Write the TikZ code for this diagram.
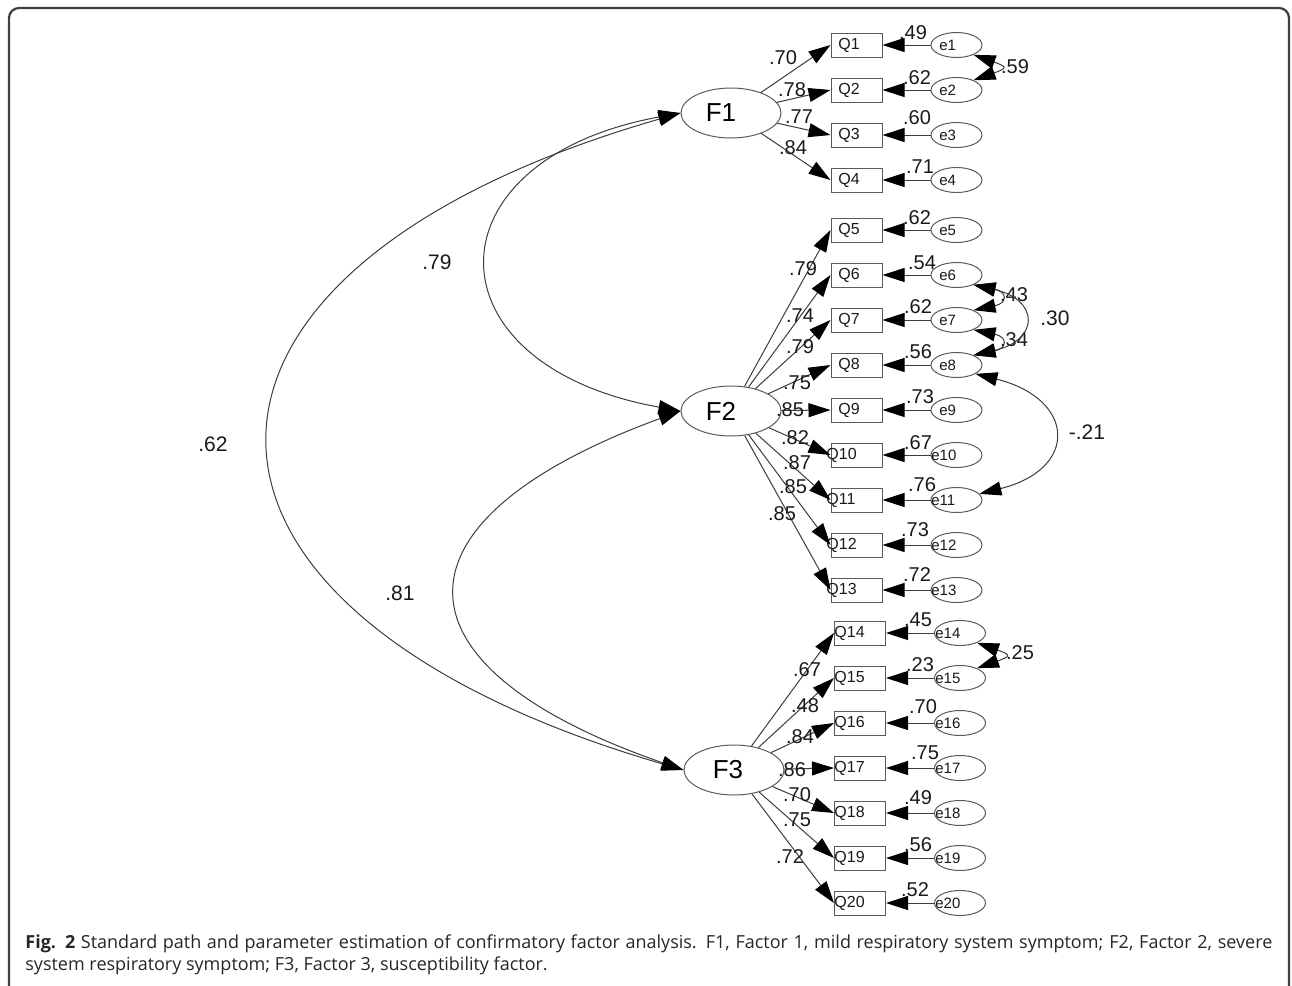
\documentclass[tikz,border=0pt]{standalone}
\usepackage{fontspec}
\setmainfont{Liberation Sans}
\newfontfamily\capfont{Open Sans}
\usetikzlibrary{arrows.meta,shapes.geometric,calc}
\definecolor{ln}{HTML}{3C3C3C}
\definecolor{bd}{HTML}{5A5A5A}
\begin{document}
\begin{tikzpicture}[x=0.5pt,y=-0.5pt,
  every node/.style={inner sep=0pt},
  >={Triangle[length=11pt,width=7pt,color=black]},
  lat/.style={draw=bd, ellipse, minimum width=50pt, minimum height=25pt, line width=0.5pt, font=\fontsize{13}{13}\selectfont},
  qbox/.style={draw=bd, rectangle, minimum width=25.5pt, minimum height=12pt, line width=0.5pt},
  ebox/.style={draw=bd, ellipse, minimum width=25.5pt, minimum height=12.5pt, line width=0.5pt},
  qtxt/.style={font=\fontsize{8}{8}\selectfont, text=black!90},
  smalltxt/.style={font=\fontsize{7.5}{7.5}\selectfont, text=black!90},
  num/.style={font=\fontsize{10}{10}\selectfont, text=black!90},
  bignum/.style={font=\fontsize{10.5}{10.5}\selectfont, text=black!90},
  path/.style={draw=ln, line width=0.5pt, ->},
  cov/.style={draw=ln, line width=0.5pt, <->}
]
\path[use as bounding box] (0,0) rectangle (1292,986);
\clip (0,0) rectangle (1292,986);
\draw[line width=1.1pt, draw=black!75, rounded corners=5pt] (9,8) rectangle (1289,1020);

% latent factors
\node[lat] (f1) at (731,113) {\hspace*{-10pt}F1};
\node[lat] (f2) at (731,411) {\hspace*{-10pt}F2};
\node[lat] (f3) at (734,770) {\hspace*{-6pt}F3};

% indicators and errors
\foreach \i/\y/\qx/\ex/\qt/\et in {
  1/45/856.5/956.5/838/939, 2/90/856.5/956.5/838/939, 3/135/856.5/956.5/838/939,
  4/180/856.5/956.5/838/939, 5/230/856.5/956.5/838/939, 6/275/856.5/956.5/838/939,
  7/320/856.5/956.5/838/939, 8/365/856.5/956.5/838/939, 9/410/856.5/956.5/838/939,
  10/455/856.5/956.5/826/931, 11/500/856.5/956.5/826/931, 12/545/856.5/956.5/826/931,
  13/590/856.5/956.5/826/931, 14/633/860/960/834/935, 15/678/860/960/834/935,
  16/723/860/960/834/935, 17/768/860/960/834/935, 18/813/860/960/834/935,
  19/858/860/960/834/935, 20/903/860/960/834/935}{
  \node[qbox] (q\i) at (\qx,\y) {};
  \node[ebox] (e\i) at (\ex,\y) {};
  \node[qtxt, anchor=west] (qt\i) at (\qt,\y) {Q\i};
  \node[smalltxt, anchor=west] (et\i) at (\et,\y) {e\i};
  \draw[path] (e\i) -- (q\i.east);
}

% error variance labels
\foreach \i/\x/\y/\v in {1/913/33/.49, 2/917/78/.62, 3/917/118/.60, 4/920/167/.71,
  5/917/218/.62, 6/922/263/.54, 7/918/307/.62, 8/918/352/.56, 9/920/397/.73,
  10/918/443/.67, 11/922/485/.76, 12/915/530/.73, 13/917/575/.72, 14/918/620/.45,
  15/920/665/.23, 16/923/707/.70, 17/925/753/.75, 18/918/798/.49, 19/918/845/.56,
  20/915/890/.52}{
  \node[num] (r\i) at (\x,\y) {\v};
}

% loadings
\foreach \f/\i/\x/\y/\v in {1/1/783/58/.70, 1/2/792/90/.78, 1/3/799/117/.77, 1/4/793/148/.84,
  2/5/803/269/.79, 2/6/800/316/.74, 2/7/800/347/.79, 2/8/797/383/.75, 2/9/790/410/.85,
  2/10/795/438/.82, 2/11/797/463/.87, 2/12/793/487/.85, 2/13/782/514/.85,
  3/14/807/670/.67, 3/15/805/706/.48, 3/16/800/737/.84, 3/17/792/770/.86,
  3/18/797/795/.70, 3/19/797/820/.75, 3/20/790/857/.72}{
  \draw[path] (f\f) -- (q\i.west);
  \node[num] (l\i) at (\x,\y) {\v};
}

% error covariances
\draw[cov] (e1.-30) .. controls +(34,12) and +(34,-12) .. (e2.30);
\node[num] (c12) at (1015,67) {.59};
\draw[cov] (e6.-30) .. controls +(34,7) and +(34,-7) .. (e7.30);
\node[num] (c67) at (1014,295) {.43};
\draw[cov] (e7.-30) .. controls +(34,7) and +(34,-7) .. (e8.30);
\node[num] (c78) at (1014,340) {.34};
\draw[cov] (e6.-30) .. controls +(66,15) and +(66,-15) .. (e8.30);
\node[bignum] (c68) at (1055,318) {.30};
\draw[cov] (e8.-25) .. controls +(100,25) and +(100,-25) .. (e11.15);
\node[bignum] (c811) at (1087,432) {-.21};
\draw[cov] (e14.-30) .. controls +(34,12) and +(34,-12) .. (e15.30);
\node[num] (c1415) at (1020,653) {.25};

% factor covariances
\draw[cov] (f1.west) .. controls (425,160) and (425,365) .. (f2.west);
\node[bignum] (c12f) at (437,262) {.79};
\draw[cov] (f1.west) .. controls (134,270) and (134,610) .. (f3.west);
\node[bignum] (c13f) at (213,444) {.62};
\draw[cov] (f2.west) .. controls (383,520) and (383,666) .. (f3.west);
\node[bignum] (c23f) at (400,593) {.81};

% caption
\node[anchor=north west, align=left,
  font=\capfont\fontsize{9}{11.4}\selectfont, text=black!85] (cap) at (25,934)
  {\makebox[623.5pt][s]{\textbf{Fig. 2} Standard path and parameter estimation of confirmatory factor analysis. F1, Factor 1, mild respiratory system symptom; F2, Factor 2, severe}\\
   system respiratory symptom; F3, Factor 3, susceptibility factor.};
\end{tikzpicture}
\end{document}
